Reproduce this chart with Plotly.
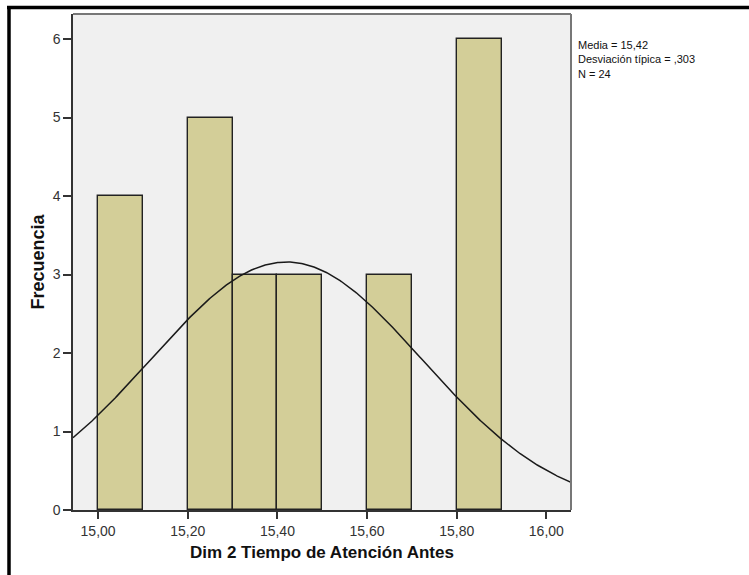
import numpy as np
import plotly.graph_objects as go

# Data
bin_starts = [15.0, 15.2, 15.3, 15.4, 15.6, 15.8]
counts = [4, 5, 3, 3, 3, 6]
bin_width = 0.1
mean_val = 15.42
sd_val = 0.303
n_val = 24
x_tick_vals = [15.0, 15.2, 15.4, 15.6, 15.8, 16.0]
x_tick_text = ["15,00", "15,20", "15,40", "15,60", "15,80", "16,00"]
y_tick_vals = [0, 1, 2, 3, 4, 5, 6]
stats_lines = ["Media = 15,42", "Desviación típica = ,303", "N = 24"]

x_range = [14.944, 16.055]
y_range = [0, 6.32]

# Normal curve scaled to histogram
xc = np.linspace(x_range[0], x_range[1], 400)
yc = n_val * bin_width / (sd_val * np.sqrt(2 * np.pi)) * np.exp(-0.5 * ((xc - mean_val) / sd_val) ** 2)

fig = go.Figure()
fig.add_trace(go.Bar(
    x=[s + bin_width / 2 for s in bin_starts], y=counts, width=bin_width,
    marker=dict(color="#D3CE98", line=dict(color="#222", width=1.4)),
    hoverinfo="skip"))
fig.add_trace(go.Scatter(x=xc, y=yc, mode="lines",
                         line=dict(color="#1a1a1a", width=1.5), hoverinfo="skip"))

L, R, T, B = 73, 178, 14, 65
W, H = 749, 575
pw, ph = W - L - R, H - T - B

def px(xpix):
    return (xpix - L) / pw

def py(ypix):
    return (H - B - ypix) / ph

font_family = "Arial, Liberation Sans, sans-serif"
narrow = "Liberation Sans Narrow, Arial Narrow, Arial, sans-serif"

fig.update_layout(
    width=W, height=H,
    margin=dict(l=L, r=R, t=T, b=B),
    paper_bgcolor="white", plot_bgcolor="#F0F0F0",
    showlegend=False, bargap=0,
    font=dict(family=font_family, color="#222", size=11),
    xaxis=dict(range=x_range, tickvals=x_tick_vals, ticktext=x_tick_text,
               ticks="outside", ticklen=7, tickwidth=1.5, tickcolor="#333",
               showgrid=False, zeroline=False, showline=True, linecolor="#333", linewidth=1.5,
               tickfont=dict(size=14, color="#333", family=narrow),
               title=dict(text="<b>Dim 2 Tiempo de Atención Antes</b>",
                          font=dict(size=17, color="#111"), standoff=9)),
    yaxis=dict(range=y_range, tickvals=y_tick_vals,
               ticks="outside", ticklen=8, tickwidth=1.5, tickcolor="#333",
               showgrid=False, zeroline=False, showline=True, linecolor="#333", linewidth=1.5,
               tickfont=dict(size=14, color="#333", family=narrow),
               title=dict(text="<b>Frecuencia</b>", font=dict(size=18, color="#111"), standoff=3)),
    shapes=[
        dict(type="line", xref="paper", yref="paper", x0=0, x1=1, y0=1, y1=1,
             line=dict(color="#777", width=2)),
        dict(type="line", xref="paper", yref="paper", x0=1, x1=1, y0=0, y1=1,
             line=dict(color="#777", width=2)),
        dict(type="line", xref="paper", yref="paper", x0=px(7), x1=px(749), y0=py(7.5), y1=py(7.5),
             line=dict(color="black", width=3.5)),
        dict(type="line", xref="paper", yref="paper", x0=px(9), x1=px(9), y0=py(6), y1=py(575),
             line=dict(color="black", width=3.5)),
    ],
    annotations=[dict(
        xref="paper", yref="paper", x=px(577), y=py(38),
        xanchor="left", yanchor="top", align="left", showarrow=False, borderpad=0,
        text="<br>".join(stats_lines), font=dict(size=11, color="#111", family=font_family))],
)

fig.write_html("out.html")
